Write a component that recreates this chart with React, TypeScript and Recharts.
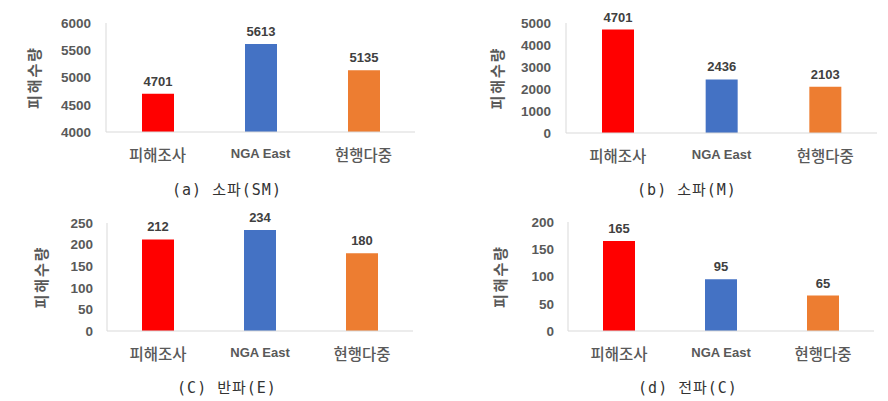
import React from "react";
import { BarChart, Bar, XAxis, YAxis, Cell, LabelList } from "recharts";

const categories = ["피해조사", "NGA East", "현행다중"];
const smValues = [4701, 5613, 5135];
const mValues = [4701, 2436, 2103];
const eValues = [212, 234, 180];
const cValues = [165, 95, 65];
const smTicks = [4000, 4500, 5000, 5500, 6000];
const mTicks = [0, 1000, 2000, 3000, 4000, 5000];
const eTicks = [0, 50, 100, 150, 200, 250];
const cTicks = [0, 50, 100, 150, 200];
const captions = ["(a) 소파(SM)", "(b) 소파(M)", "(C) 반파(E)", "(d) 전파(C)"];

const colors = ["#FF0000", "#4472C4", "#ED7D31"];
const textGrey = "#595959";
const axisGrey = "#d9d9d9";
const font = '"Liberation Sans", Arial, "Noto Sans CJK KR", sans-serif';

const CategoryTick = (props: any) => {
  const { x, y, payload } = props;
  const latin = /^[A-Za-z ]+$/.test(payload.value);
  return (
    <text
      x={x}
      y={latin ? y + 24 : y + 27}
      textAnchor="middle"
      fill={textGrey}
      fontFamily={latin ? font : '"Noto Sans CJK KR", sans-serif'}
      fontSize={latin ? 13 : 15.5}
      fontWeight={latin ? 700 : 500}
    >
      {payload.value}
    </text>
  );
};

type PanelProps = {
  values: number[];
  ticks: number[];
  caption: string;
  left: number;
  top: number;
  height: number;
  axisWidth: number;
  right: number;
  plotTop: number;
  plotBottom: number;
  tickGap: number;
  titleX: number;
  captionX: number;
  captionTop: number;
};

function Panel(p: PanelProps) {
  const data = categories.map((name, i) => ({ name, value: p.values[i] }));
  const w = 444;
  return (
    <div style={{ position: "absolute", left: p.left, top: p.top, width: w, height: p.height }}>
      <BarChart
        width={w}
        height={p.height}
        data={data}
        margin={{ top: p.plotTop, right: p.right, left: 0, bottom: p.height - p.plotBottom - 30 }}
      >
        <XAxis
          dataKey="name"
          height={30}
          axisLine={{ stroke: axisGrey }}
          tickLine={false}
          tickSize={0}
          tick={<CategoryTick />}
          interval={0}
        />
        <YAxis
          width={p.axisWidth}
          domain={[p.ticks[0], p.ticks[p.ticks.length - 1]]}
          ticks={p.ticks}
          allowDataOverflow
          axisLine={{ stroke: axisGrey }}
          tickLine={false}
          tickSize={0}
          tickMargin={p.tickGap}
          tick={{ fill: textGrey, fontSize: 13.5, fontWeight: 700, fontFamily: font }}
          label={(lp: any) => {
            const vb = lp.viewBox || {};
            const cy = (vb.y || 0) + (vb.height || 0) / 2;
            return (
              <text
                x={p.titleX}
                y={cy}
                transform={`rotate(-90 ${p.titleX} ${cy})`}
                textAnchor="middle"
                dominantBaseline="central"
                fill={textGrey}
                fontFamily='"Noto Sans CJK KR", sans-serif'
                fontWeight={700}
                fontSize={15}
                letterSpacing={2}
              >
                피해수량
              </text>
            );
          }}
        />
        <Bar dataKey="value" barSize={32} isAnimationActive={false}>
          {data.map((d, i) => (
            <Cell key={d.name} fill={colors[i]} />
          ))}
          <LabelList
            dataKey="value"
            position="top"
            offset={8}
            fill="#404040"
            fontSize={13}
            fontWeight={700}
            fontFamily={font}
          />
        </Bar>
      </BarChart>
      <div
        style={{
          position: "absolute",
          left: p.captionX - 100,
          width: 200,
          top: p.captionTop,
          textAlign: "center",
          fontFamily: '"DejaVu Sans Mono", "Noto Sans CJK KR", monospace',
          fontSize: 15,
          lineHeight: "20px",
          letterSpacing: 1,
          color: "#333",
          whiteSpace: "pre",
        }}
      >
        {p.caption}
      </div>
    </div>
  );
}

export default function App() {
  return (
    <div style={{ position: "absolute", left: 0, top: 0, width: 888, height: 401, background: "#fff" }}>
      <Panel values={smValues} ticks={smTicks} caption={captions[0]} left={0} top={0} height={200}
        axisWidth={106} right={29} plotTop={23} plotBottom={132} tickGap={15} titleX={33} captionX={227} captionTop={180} />
      <Panel values={mValues} ticks={mTicks} caption={captions[1]} left={444} top={0} height={200}
        axisWidth={122} right={11} plotTop={23} plotBottom={133} tickGap={15} titleX={52} captionX={243} captionTop={180} />
      <Panel values={eValues} ticks={eTicks} caption={captions[2]} left={0} top={200} height={201}
        axisWidth={107} right={31} plotTop={23} plotBottom={131} tickGap={14} titleX={40} captionX={227} captionTop={178} />
      <Panel values={cValues} ticks={cTicks} caption={captions[3]} left={444} top={200} height={201}
        axisWidth={124} right={14} plotTop={22} plotBottom={131} tickGap={14} titleX={55} captionX={244} captionTop={178} />
    </div>
  );
}
